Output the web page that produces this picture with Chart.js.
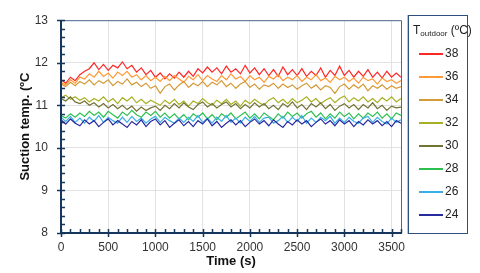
<!DOCTYPE html>
<html>
<head>
<meta charset="utf-8">
<script src="https://cdn.jsdelivr.net/npm/chart.js@4/dist/chart.umd.min.js"></script>
<style>
  html, body { margin: 0; padding: 0; background: #fff; }
  #wrap { position: relative; width: 480px; height: 273px; font-family: "Liberation Sans", Arial, sans-serif; }
  #chart { position: absolute; left: 0; top: 0; }
  #legend {
    position: absolute; left: 408px; top: 15px; width: 58px; height: 217px;
    border: 1px solid #2f4f7f; box-shadow: -1px 0 0 #b8c4d8; background: #fff;
  }
  #legend .ttl { position: absolute; left: 4px; top: 7px; font-size: 12px; color: #222; white-space: nowrap; }
  #legend .ttl sub { font-size: 8px; vertical-align: -2px; }
  #legend .row { position: absolute; left: 10px; height: 14px; font-size: 12px; color: #222; }
  #legend .row i { position: absolute; left: 0; top: 7px; width: 24px; height: 2px; }
  #legend .row span { position: absolute; left: 26px; top: 0; }
</style>
</head>
<body>
<div id="wrap">
  <canvas id="chart" width="480" height="273"></canvas>
  <div id="legend"><div class="ttl">T<sub>outdoor</sub> (ºC)</div></div>
</div>
<script>
(function () {
    'use strict';

    // time axis, one sample every 50 s
    var TIME = [];
    for (var t = 0; t <= 3600; t += 50) TIME.push(t);

    var LABELS = ['38', '36', '34', '32', '30', '28', '26', '24'];
    var COLORS = ['#ff2626', '#ff9a38', '#d49a38', '#a6b022', '#727234', '#2cc050', '#3aaee6', '#2a2aa0'];

    var T38 = [11.60,11.52,11.66,11.58,11.72,11.80,11.86,12.00,11.84,11.96,11.82,11.94,11.88,12.02,11.86,11.94,11.78,11.88,11.72,11.82,
               11.66,11.76,11.62,11.74,11.64,11.78,11.66,11.80,11.68,11.86,11.76,11.90,11.78,11.88,11.74,11.92,11.78,11.86,11.74,11.94,
               11.76,11.88,11.72,11.86,11.70,11.84,11.68,11.90,11.72,11.84,11.70,11.86,11.68,11.80,11.70,11.88,11.66,11.82,11.70,11.92,
               11.70,11.82,11.66,11.80,11.68,11.84,11.66,11.78,11.64,11.80,11.66,11.76,11.66];
    var T36 = [11.54,11.48,11.60,11.52,11.66,11.62,11.74,11.66,11.80,11.68,11.76,11.64,11.78,11.70,11.80,11.66,11.72,11.60,11.70,11.58,
               11.66,11.56,11.68,11.58,11.70,11.62,11.54,11.68,11.60,11.72,11.58,11.70,11.62,11.56,11.70,11.60,11.74,11.62,11.68,11.56,
               11.70,11.60,11.66,11.54,11.68,11.62,11.72,11.58,11.66,11.60,11.70,11.56,11.66,11.60,11.72,11.58,11.64,11.54,11.68,11.60,
               11.66,11.56,11.64,11.52,11.66,11.58,11.62,11.50,11.64,11.56,11.60,11.52,11.58];
    var T34 = [11.50,11.44,11.54,11.46,11.56,11.50,11.60,11.48,11.58,11.52,11.60,11.46,11.56,11.50,11.62,11.48,11.54,11.44,11.52,11.40,
               11.46,11.28,11.44,11.50,11.36,11.48,11.56,11.42,11.52,11.46,11.56,11.44,11.54,11.48,11.58,11.44,11.52,11.40,11.50,11.56,
               11.42,11.50,11.38,11.48,11.44,11.52,11.40,11.50,11.42,11.48,11.38,11.46,11.52,11.40,11.48,11.36,11.46,11.42,11.28,11.44,
               11.50,11.38,11.48,11.40,11.50,11.34,11.46,11.40,11.48,11.38,11.46,11.40,11.44];
    var T32 = [11.18,11.24,11.14,11.20,11.12,11.18,11.08,11.16,11.10,11.20,11.08,11.16,11.04,11.18,11.10,11.20,11.06,11.14,11.04,11.12,
               11.06,11.00,11.12,11.04,11.14,11.02,11.10,10.98,11.10,11.04,11.16,11.06,11.00,11.12,11.04,11.14,11.02,11.10,10.98,11.12,
               11.04,11.14,11.06,11.00,11.12,11.18,11.06,11.14,11.04,11.16,11.06,11.12,11.20,11.08,11.16,11.04,11.12,11.18,11.06,11.16,
               11.22,11.08,11.18,11.10,11.20,11.08,11.16,11.06,11.18,11.10,11.20,11.08,11.16];
    var T30 = [11.16,11.10,11.20,11.08,11.04,11.10,11.00,11.06,10.96,11.04,10.94,11.02,10.92,11.00,10.90,10.98,10.86,10.96,10.88,10.94,
               10.98,10.88,11.00,10.92,11.04,10.94,11.06,10.96,10.90,11.02,11.08,10.96,11.04,10.94,11.02,11.08,10.96,11.04,10.92,11.02,
               10.94,11.06,10.96,11.04,10.92,11.00,10.90,11.04,10.96,11.08,10.94,11.02,10.90,11.04,10.96,11.06,10.92,11.02,10.88,10.98,
               11.04,10.94,11.02,10.90,11.02,10.94,11.06,10.92,11.00,10.88,10.98,10.94,10.96];
    var T28 = [10.76,10.70,10.80,10.72,10.82,10.74,10.86,10.76,10.84,10.72,10.86,10.78,10.70,10.84,10.76,10.88,10.78,10.72,10.84,10.76,
               10.86,10.72,10.82,10.70,10.80,10.68,10.78,10.66,10.80,10.72,10.82,10.68,10.78,10.66,10.80,10.72,10.82,10.68,10.76,10.84,
               10.70,10.80,10.68,10.82,10.74,10.66,10.80,10.70,10.84,10.74,10.82,10.70,10.80,10.86,10.72,10.82,10.68,10.80,10.70,10.84,
               10.74,10.82,10.68,10.80,10.70,10.82,10.74,10.84,10.70,10.80,10.68,10.82,10.76];
    var T26 = [10.72,10.62,10.74,10.60,10.70,10.58,10.72,10.62,10.76,10.60,10.72,10.64,10.58,10.72,10.60,10.74,10.62,10.70,10.58,10.68,
               10.74,10.60,10.72,10.64,10.58,10.70,10.60,10.72,10.62,10.76,10.60,10.70,10.58,10.72,10.62,10.76,10.60,10.70,10.58,10.72,
               10.62,10.74,10.60,10.70,10.72,10.58,10.64,10.74,10.60,10.72,10.62,10.76,10.58,10.70,10.60,10.72,10.64,10.74,10.58,10.70,
               10.60,10.72,10.62,10.58,10.70,10.74,10.60,10.72,10.62,10.56,10.70,10.60,10.66];
    var T24 = [10.66,10.56,10.68,10.58,10.52,10.66,10.56,10.64,10.50,10.60,10.68,10.54,10.64,10.56,10.48,10.62,10.54,10.66,10.50,10.62,
               10.68,10.54,10.64,10.48,10.58,10.66,10.52,10.62,10.50,10.64,10.56,10.68,10.52,10.62,10.48,10.58,10.66,10.54,10.64,10.50,
               10.60,10.68,10.56,10.64,10.52,10.66,10.56,10.48,10.62,10.54,10.66,10.56,10.64,10.50,10.60,10.68,10.56,10.64,10.52,10.66,
               10.56,10.64,10.50,10.62,10.54,10.66,10.56,10.64,10.52,10.62,10.50,10.64,10.58];

    var SERIES = [T38, T36, T34, T32, T30, T28, T26, T24];

    var X_TICKS = [0, 500, 1000, 1500, 2000, 2500, 3000, 3500];
    var Y_TICKS = [8, 9, 10, 11, 12, 13];

    var AXIS = '#17365d';

    // thick left/bottom axes with minor ticks, thin frame at top/right
    var axisFrame = {
        id: 'axisFrame',
        afterDatasetsDraw: function (chart) {
            var c = chart.ctx, a = chart.chartArea;
            var xs = chart.scales.x, ys = chart.scales.y;
            c.save();
            c.strokeStyle = '#4a6890';
            c.lineWidth = 1;
            c.beginPath();
            c.moveTo(a.left, a.top + 0.5); c.lineTo(a.right + 0.5, a.top + 0.5); c.lineTo(a.right + 0.5, a.bottom);
            c.stroke();

            c.strokeStyle = AXIS;
            c.lineWidth = 2;
            c.beginPath();
            c.moveTo(a.left, a.top); c.lineTo(a.left, a.bottom); c.lineTo(a.right + 1, a.bottom);
            c.stroke();

            c.lineWidth = 1.5;
            c.beginPath();
            var v, p;
            for (v = 0; v <= 3600; v += 100) {
                p = Math.round(xs.getPixelForValue(v)) + 0.5;
                var major = v % 500 === 0;
                c.moveTo(p, a.bottom - 4);
                c.lineTo(p, a.bottom + (major ? 4 : 0));
            }
            for (v = 8; v <= 13.001; v += 0.2) {
                p = Math.round(ys.getPixelForValue(v)) + 0.5;
                var maj = Math.abs(v - Math.round(v)) < 0.01;
                c.moveTo(a.left - (maj ? 4 : 0), p);
                c.lineTo(a.left + 4, p);
            }
            c.stroke();
            c.restore();
        }
    };

    function buildChart() {
        var el = document.getElementById('chart');
        var datasets = SERIES.map(function (s, i) {
            return {
                label: LABELS[i],
                data: s.map(function (y, k) { return { x: TIME[k], y: y }; }),
                borderColor: COLORS[i],
                borderWidth: 1.2,
                pointRadius: 0,
                tension: 0,
                fill: false
            };
        });
        // draw warmer series last so they sit on top like the original
        datasets.reverse();

        return new Chart(el, {
            type: 'line',
            data: { datasets: datasets },
            plugins: [axisFrame],
            options: {
                responsive: false,
                animation: false,
                layout: { padding: { top: 15, right: 79, left: 0, bottom: 0 } },
                plugins: { legend: { display: false }, tooltip: { enabled: false } },
                scales: {
                    x: {
                        type: 'linear', min: 0, max: 3600,
                        afterBuildTicks: function (s) { s.ticks = X_TICKS.map(function (v) { return { value: v }; }); },
                        afterFit: function (s) { s.height = 40; },
                        grid: { color: '#e2e2e2', drawTicks: false },
                        border: { display: false },
                        ticks: {
                            color: '#333', font: { size: 12, family: 'Liberation Sans' }, padding: 7, maxRotation: 0,
                            callback: function (v) { return String(v); }
                        },
                        title: { display: true, text: 'Time (s)', color: '#111', font: { size: 13, weight: 'bold', family: 'Liberation Sans' }, padding: { top: 0 } }
                    },
                    y: {
                        min: 8, max: 13,
                        afterBuildTicks: function (s) { s.ticks = Y_TICKS.map(function (v) { return { value: v }; }); },
                        afterFit: function (s) { s.width = 61; },
                        grid: { color: '#e2e2e2', drawTicks: false },
                        border: { display: false },
                        ticks: { color: '#333', font: { size: 12, family: 'Liberation Sans' }, padding: 13 },
                        title: { display: true, text: 'Suction temp. (ºC', color: '#111', font: { size: 13, weight: 'bold', family: 'Liberation Sans' }, padding: { top: 18 } }
                    }
                }
            }
        });
    }

    function buildLegend() {
        var box = document.getElementById('legend');
        LABELS.forEach(function (lab, i) {
            var row = document.createElement('div');
            row.className = 'row';
            row.style.top = (30 + i * 23) + 'px';
            row.innerHTML = '<i style="background-color:' + COLORS[i] + '"></i><span>' + lab + '</span>';
            box.appendChild(row);
        });
    }

    buildChart();
    buildLegend();
}());
</script>
</body>
</html>
